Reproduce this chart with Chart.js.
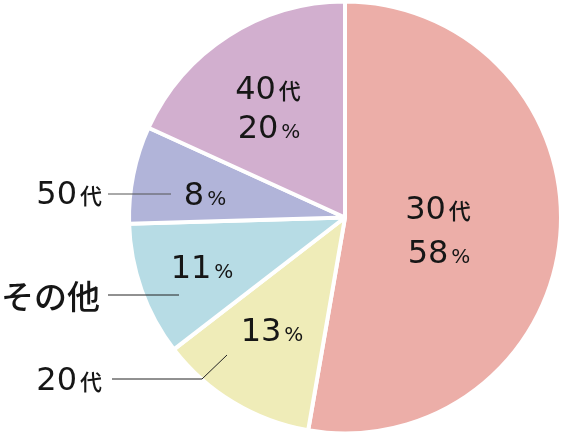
<!DOCTYPE html>
<html lang="ja">
<head>
<meta charset="UTF-8">
<title>年代別</title>
<script src="https://cdn.jsdelivr.net/npm/chart.js"></script>
<style>
  html, body { margin: 0; padding: 0; background: #fff; }
  #wrap { width: 564px; height: 435px; }
</style>
</head>
<body>
<div id="wrap"><canvas id="pie" width="564" height="435"></canvas></div>
<script>
// data, clockwise from 12 o'clock
const categories = ['30代', '20代', 'その他', '50代', '40代'];
const values = [58, 13, 11, 8, 20];
const colors = ['#ecaea8', '#efecb8', '#b7dce5', '#b1b4d9', '#d2afcf'];

// label placement, in px from the pie centre (baseline of first line)
const inLabels = [
  { dx: 93, dy: 1, gap: 44, showCat: true },   // 30代
  { dx: -73, dy: 123, gap: 0, showCat: false }, // 20代 (name outside)
  { dx: -143, dy: 60, gap: 0, showCat: false }, // その他
  { dx: -140, dy: -13, gap: 0, showCat: false },// 50代
  { dx: -77, dy: -119, gap: 39, showCat: true } // 40代
];
// names drawn outside with a leader line
const outLabels = {
  1: { tx: -243, ty: 172, path: [[-233, 161], [-143, 161], [-118, 137]] },
  2: { tx: -245, ty: 79, path: [[-237, 77], [-166, 77]], middle: true },
  3: { tx: -243, ty: -14, path: [[-237, -24], [-174, -24]], grey: true }
};

const NUM_FONT = '"DejaVu Sans", sans-serif';
const JP_FONT = '"Noto Sans CJK JP", "Noto Sans", sans-serif';

function partsOf(text) {
  const m = text.match(/^(\d+)(.*)$/);
  if (!m) return [{ t: text, size: 33, jp: true }];
  const isPct = m[2] === '%';
  return [
    { t: m[1], size: 32, jp: false },
    { t: m[2], size: isPct ? 20 : 22, jp: !isPct }
  ];
}

function setFont(ctx, p) {
  ctx.font = (p.jp ? '500 ' : '400 ') + p.size + 'px ' + (p.jp ? JP_FONT : NUM_FONT);
}

function drawParts(ctx, parts, x, y, align) {
  const gap = 3;
  const widths = parts.map(p => { setFont(ctx, p); return ctx.measureText(p.t).width; });
  const total = widths.reduce((a, b) => a + b, 0) + gap * (parts.length - 1);
  let x0 = align === 'right' ? x - total : x - total / 2;
  parts.forEach((p, k) => {
    setFont(ctx, p);
    ctx.fillText(p.t, x0, y);
    x0 += widths[k] + gap;
  });
}

const labelPlugin = {
  id: 'pieLabels',
  afterDraw(chart) {
    const ctx = chart.ctx;
    const arcs = chart.getDatasetMeta(0).data;
    const cx = arcs[0].x, cy = arcs[0].y;
    ctx.save();
    ctx.fillStyle = '#161616';
    ctx.textAlign = 'left';
    ctx.textBaseline = 'alphabetic';

    values.forEach((v, i) => {
      const L = inLabels[i];
      const pct = partsOf(v + '%');
      if (L.showCat) {
        drawParts(ctx, partsOf(categories[i]), cx + L.dx, cy + L.dy, 'center');
        drawParts(ctx, pct, cx + L.dx + 1, cy + L.dy + L.gap, 'center');
      } else {
        drawParts(ctx, pct, cx + L.dx, cy + L.dy, 'center');
      }
    });

    Object.keys(outLabels).forEach(k => {
      const o = outLabels[k];
      ctx.beginPath();
      o.path.forEach((p, j) => {
        if (j === 0) ctx.moveTo(cx + p[0], cy + p[1] + 0.5);
        else ctx.lineTo(cx + p[0], cy + p[1] + 0.5);
      });
      ctx.strokeStyle = o.grey ? '#555' : '#222';
      ctx.lineWidth = 1;
      ctx.stroke();
      ctx.textBaseline = o.middle ? 'middle' : 'alphabetic';
      drawParts(ctx, partsOf(categories[k]), cx + o.tx, cy + o.ty, 'right');
      ctx.textBaseline = 'alphabetic';
    });
    ctx.restore();
  }
};

new Chart(document.getElementById('pie'), {
  type: 'pie',
  data: {
    labels: categories,
    datasets: [{
      data: values,
      backgroundColor: colors,
      borderColor: '#fff',
      borderWidth: 4
    }]
  },
  options: {
    responsive: false,
    animation: false,
    radius: 216,
    layout: { padding: { left: 126 } },
    plugins: {
      legend: { display: false },
      tooltip: { enabled: false }
    }
  },
  plugins: [labelPlugin]
});
</script>
</body>
</html>
